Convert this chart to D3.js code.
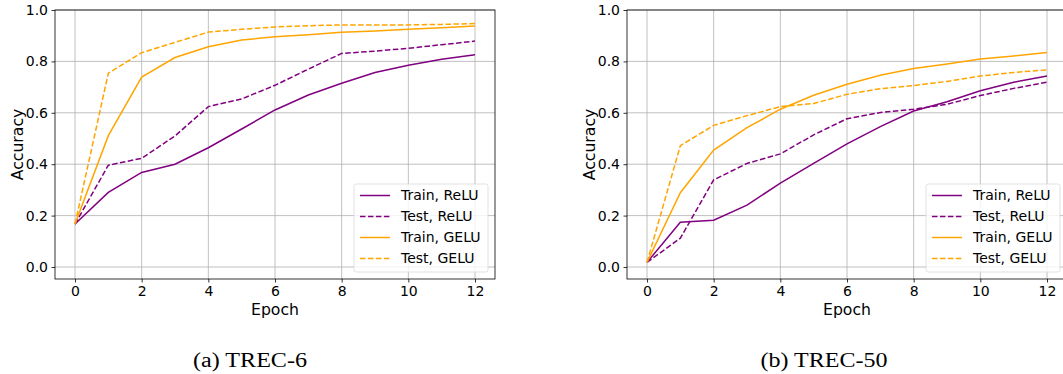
<!DOCTYPE html>
<html><head><meta charset="utf-8">
<script src="https://cdn.jsdelivr.net/npm/d3@7"></script>
<style>body{margin:0;background:#fff}svg{display:block}</style>
</head><body>
<svg id="chart" width="1063" height="374"></svg>
<script>
const epochs = [0,1,2,3,4,5,6,7,8,9,10,11,12];
const xTicks = [0,2,4,6,8,10,12];
const yTicks = [0.0,0.2,0.4,0.6,0.8,1.0];
const seriesNames = ["Train, ReLU","Test, ReLU","Train, GELU","Test, GELU"];
const seriesColors = ["#800080","#800080","#FFA500","#FFA500"];
const seriesDashed = [false,true,false,true];
const captions = ["(a) TREC-6","(b) TREC-50"];

const trec6TrainReLU = [0.167,0.290,0.368,0.400,0.464,0.537,0.611,0.669,0.715,0.757,0.785,0.808,0.826];
const trec6TestReLU  = [0.167,0.396,0.423,0.510,0.624,0.654,0.707,0.770,0.831,0.840,0.851,0.865,0.879];
const trec6TrainGELU = [0.167,0.511,0.739,0.815,0.857,0.883,0.896,0.904,0.913,0.918,0.925,0.931,0.938];
const trec6TestGELU  = [0.167,0.754,0.834,0.874,0.914,0.925,0.934,0.939,0.942,0.942,0.942,0.944,0.947];

const trec50TrainReLU = [0.018,0.174,0.182,0.241,0.326,0.403,0.479,0.546,0.607,0.643,0.686,0.719,0.743];
const trec50TestReLU  = [0.018,0.112,0.339,0.403,0.440,0.514,0.577,0.601,0.614,0.633,0.667,0.695,0.719];
const trec50TrainGELU = [0.018,0.289,0.455,0.542,0.614,0.668,0.711,0.746,0.772,0.790,0.809,0.821,0.835];
const trec50TestGELU  = [0.018,0.472,0.551,0.589,0.624,0.636,0.672,0.694,0.706,0.722,0.743,0.757,0.767];

const panels = [
  {x0:75, series:[trec6TrainReLU,trec6TestReLU,trec6TrainGELU,trec6TestGELU], caption:captions[0], capX:250, capW:114},
  {x0:647, series:[trec50TrainReLU,trec50TestReLU,trec50TrainGELU,trec50TestGELU], caption:captions[1], capX:824, capW:127}
];

const svg = d3.select("#chart");
const plotTop = 10, plotBottom = 279;
const font = "DejaVu Sans, sans-serif";

panels.forEach(p => {
  const unit = 400/12;
  const x = d3.scaleLinear().domain([-0.6, 12.6]).range([p.x0 - 0.6*unit, p.x0 + 12.6*unit]);
  const y = d3.scaleLinear().domain([-0.0467, 1.0]).range([plotBottom, plotTop]);
  const g = svg.append("g");
  const [xl, xr] = x.range();

  // grid
  g.selectAll(".gx").data(xTicks).join("line")
    .attr("x1", d=>x(d)).attr("x2", d=>x(d)).attr("y1", plotTop).attr("y2", plotBottom)
    .attr("stroke", "#b0b0b0").attr("stroke-width", 0.8);
  g.selectAll(".gy").data(yTicks).join("line")
    .attr("x1", xl).attr("x2", xr).attr("y1", d=>y(d)).attr("y2", d=>y(d))
    .attr("stroke", "#b0b0b0").attr("stroke-width", 0.8);

  // lines
  const line = d3.line().x((d,i)=>x(epochs[i])).y(d=>y(d));
  p.series.forEach((s, k) => {
    g.append("path").datum(s).attr("d", line)
      .attr("fill", "none").attr("stroke", seriesColors[k]).attr("stroke-width", 1.5)
      .attr("stroke-dasharray", seriesDashed[k] ? "5.55,2.4" : null);
  });

  // axes
  const xAxis = g.append("g").attr("transform", `translate(0,${plotBottom})`)
    .call(d3.axisBottom(x).tickValues(xTicks).tickFormat(d3.format("d")).tickSizeOuter(0).tickSize(3.5).tickPadding(3.5));
  const yAxis = g.append("g").attr("transform", `translate(${xl},0)`)
    .call(d3.axisLeft(y).tickValues(yTicks).tickFormat(d3.format(".1f")).tickSizeOuter(0).tickSize(3.5).tickPadding(3.5));
  [xAxis, yAxis].forEach(a => {
    a.select(".domain").remove();
    a.selectAll("line").attr("stroke", "#000").attr("stroke-width", 0.8);
    a.selectAll("text").attr("font-family", font).attr("font-size", 14).attr("fill", "#000");
  });

  // frame
  g.append("rect").attr("x", xl).attr("y", plotTop).attr("width", xr - xl).attr("height", plotBottom - plotTop)
    .attr("fill", "none").attr("stroke", "#000").attr("stroke-width", 0.8);

  // labels
  g.append("text").attr("x", (x(0)+x(12))/2).attr("y", 315).attr("text-anchor", "middle")
    .attr("font-family", font).attr("font-size", 15.7).text("Epoch");
  g.append("text").attr("transform", `translate(${xl-32},${(plotTop+plotBottom)/2}) rotate(-90)`)
    .attr("text-anchor", "middle").attr("font-family", font).attr("font-size", 15.7).text("Accuracy");

  // legend
  const lx = xr - 141, ly = 184;
  const leg = g.append("g");
  leg.append("rect").attr("x", lx).attr("y", ly).attr("width", 134).attr("height", 88)
    .attr("rx", 2.5).attr("fill", "#fff").attr("fill-opacity", 0.8).attr("stroke", "#d9d9d9").attr("stroke-width", 0.8);
  seriesNames.forEach((n, k) => {
    const yy = ly + 11.5 + k*21;
    leg.append("line").attr("x1", lx+6).attr("x2", lx+36).attr("y1", yy).attr("y2", yy)
      .attr("stroke", seriesColors[k]).attr("stroke-width", 1.5)
      .attr("stroke-dasharray", seriesDashed[k] ? "5.55,2.4" : null);
    leg.append("text").attr("x", lx+47).attr("y", yy).attr("dy", "0.35em")
      .attr("font-family", font).attr("font-size", 14).text(n);
  });

  // caption
  svg.append("text").attr("x", p.capX - p.capW/2).attr("y", 367)
    .attr("textLength", p.capW).attr("lengthAdjust", "spacingAndGlyphs")
    .attr("font-family", "Liberation Serif, Times New Roman, serif").attr("font-size", 20).text(p.caption);
});
</script>
</body></html>
